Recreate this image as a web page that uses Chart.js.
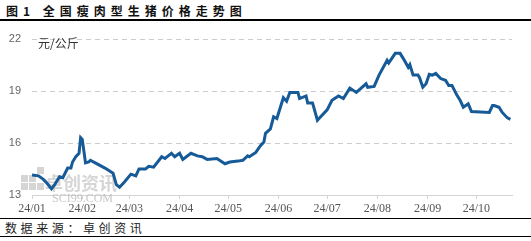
<!DOCTYPE html>
<html>
<head>
<meta charset="utf-8">
<script src="https://cdn.jsdelivr.net/npm/chart.js@4.4.1/dist/chart.umd.min.js"></script>
<style>
  body { margin: 0; background: #fff; }
  #wrap { position: relative; width: 531px; height: 241px; overflow: hidden; }
  #title {
    position: absolute; left: 6px; top: 2px; height: 17px; line-height: 17px;
    font-family: 'Noto Sans CJK SC', sans-serif; font-weight: bold; font-size: 12px;
    letter-spacing: 5px; color: #111; white-space: nowrap;
  }
  .rule { position: absolute; left: 0; width: 531px; background: #000; }
  #box { position: absolute; left: 0; top: 21px; width: 531px; height: 196px; }
  #source {
    position: absolute; left: 5px; top: 219px; height: 17px; line-height: 17px;
    font-family: 'Noto Sans CJK SC', sans-serif; font-size: 12px;
    letter-spacing: 3.6px; color: #222; white-space: nowrap;
  }
</style>
</head>
<body>
<div id="wrap">
  <div id="title">图1 全国瘦肉型生猪价格走势图</div>
  <div class="rule" style="top:19px;height:2px;"></div>
  <div id="box"><canvas id="priceChart"></canvas></div>
  <div class="rule" style="top:218px;height:1px;"></div>
  <div id="source">数据来源：卓创资讯</div>
  <div class="rule" style="top:236px;height:1px;"></div>
</div>
<script>
// day of year 2024 (0 = Jan 1) and price in 元/公斤
const days = [0, 4, 7, 9, 12, 14, 17, 19, 22, 24, 25, 27, 29, 30, 31, 33, 35, 36, 39, 45,
  50, 52, 54, 57, 61, 64, 66, 70, 72, 75, 80, 82, 84, 86, 88, 91, 93, 98, 102, 105,
  108, 114, 119, 122, 127, 130, 133, 134, 138, 141, 143, 144, 147, 149, 151, 155, 157, 159, 164, 165,
  169, 170, 173, 176, 178, 182, 185, 189, 192, 196, 200, 206, 207, 211, 214, 219, 220, 224, 227, 229,
  232, 233, 235, 238, 239, 241, 243, 245, 247, 249, 252, 255, 257, 259, 262, 264, 266, 269, 271, 282,
  284, 285, 288, 290, 293, 295];
const prices = [14.15, 14.1, 13.9, 13.7, 13.35, 13.6, 14.05, 14.0, 14.55, 14.55, 14.9, 15.2, 15.4, 16.3, 16.2, 14.85, 14.9, 15.0, 14.85, 14.55,
  14.25, 13.6, 13.45, 13.75, 14.2, 14.1, 14.5, 14.5, 14.65, 14.6, 15.2, 15.1, 15.25, 15.4, 15.2, 15.4, 15.05, 15.4, 15.25, 15.2,
  15.05, 15.1, 14.8, 14.9, 14.95, 15.0, 15.25, 15.2, 15.45, 15.85, 16.05, 16.55, 16.8, 17.5, 17.4, 18.6, 18.4, 18.9, 18.9, 18.55,
  18.7, 18.3, 18.3, 17.3, 17.5, 17.9, 18.45, 18.7, 18.55, 19.15, 18.9, 19.4, 19.2, 19.25, 19.9, 20.75, 20.6, 21.15, 21.15, 20.85,
  20.35, 20.5, 19.9, 19.9, 19.75, 19.2, 19.4, 19.95, 19.9, 20.0, 19.7, 19.6, 19.3, 19.3, 18.75, 18.45, 18.05, 18.25, 17.8, 17.75,
  18.15, 18.15, 18.05, 17.75, 17.45, 17.35];
const monthStarts = [0, 31, 60, 91, 121, 152, 182, 213, 244, 274];
const monthLabels = ['24/01', '24/02', '24/03', '24/04', '24/05', '24/06', '24/07', '24/08', '24/09', '24/10'];
const yTicks = [13, 16, 19, 22];

const extras = {
  id: 'extras',
  beforeDatasetsDraw(chart) {
    const ctx = chart.ctx;
    const a = chart.chartArea;
    const y = chart.scales.y;
    ctx.save();
    // dashed gridlines (not at the axis)
    ctx.strokeStyle = '#cccccc';
    ctx.lineWidth = 1;
    ctx.setLineDash([5, 4]);
    yTicks.slice(1).forEach(v => {
      const py = Math.round(y.getPixelForValue(v)) + 0.5;
      ctx.beginPath();
      ctx.moveTo(a.left, py);
      ctx.lineTo(a.right, py);
      ctx.stroke();
    });
    ctx.setLineDash([]);
    // watermark
    ctx.fillStyle = 'rgba(195,195,195,0.7)';
    const bx = 21, by = a.bottom - 20;
    ctx.fillRect(bx, by, 7, 7);
    ctx.fillRect(bx + 8, by, 7, 7);
    ctx.fillRect(bx, by + 8, 7, 7);
    ctx.fillRect(bx + 8, by + 8, 7, 7);
    ctx.fillRect(bx + 16, by + 8, 7, 7);
    ctx.fillRect(bx + 16, by - 8, 7, 7);
    ctx.font = 'bold 18px "Noto Sans CJK SC"';
    ctx.textBaseline = 'middle';
    ctx.fillText('卓创资讯', 45, a.bottom - 12);
    ctx.font = '12px "Liberation Serif"';
    ctx.fillStyle = 'rgba(180,180,180,0.75)';
    ctx.fillText('SCI99.COM', 52, a.bottom + 4);
    // unit
    ctx.fillStyle = '#333';
    ctx.font = '12px "Noto Sans CJK SC"';
    ctx.fillText('元/公斤', a.left + 6, a.top + 5);
    ctx.restore();
  }
};

const ctx = document.getElementById('priceChart').getContext('2d');
const priceChart = new Chart(ctx, {
  type: 'line',
  data: {
    datasets: [{
      label: '全国瘦肉型生猪价格',
      data: days.map((d, i) => ({ x: d, y: prices[i] })),
      borderColor: '#175a98',
      borderWidth: 3,
      pointRadius: 0,
      tension: 0,
      fill: false
    }]
  },
  options: {
    responsive: true,
    maintainAspectRatio: false,
    animation: false,
    layout: { padding: { top: 17, right: 19, left: 0, bottom: 0 } },
    plugins: {
      legend: { display: false },
      tooltip: { enabled: false }
    },
    scales: {
      x: {
        type: 'linear',
        min: 0,
        max: 296,
        afterBuildTicks: (scale) => {
          scale.ticks = monthStarts.map(v => ({ value: v }));
        },
        afterFit: (scale) => { scale.height = 22; },
        ticks: {
          autoSkip: false,
          maxRotation: 0,
          padding: 3,
          color: '#555',
          font: { family: 'Liberation Serif', size: 12 },
          callback: (v) => monthLabels[monthStarts.indexOf(v)]
        },
        grid: {
          drawOnChartArea: false,
          drawTicks: true,
          tickLength: 4,
          color: '#d4d4d4'
        },
        border: { display: true, color: '#d4d4d4', width: 1 }
      },
      y: {
        min: 13,
        max: 22,
        afterBuildTicks: (scale) => {
          scale.ticks = yTicks.map(v => ({ value: v }));
        },
        afterFit: (scale) => { scale.width = 32; },
        ticks: {
          padding: 11,
          color: '#666',
          font: { family: 'Liberation Sans', size: 11 }
        },
        grid: { drawTicks: false, color: 'rgba(0,0,0,0)' },
        border: { display: false }
      }
    }
  },
  plugins: [extras]
});
</script>
</body>
</html>
